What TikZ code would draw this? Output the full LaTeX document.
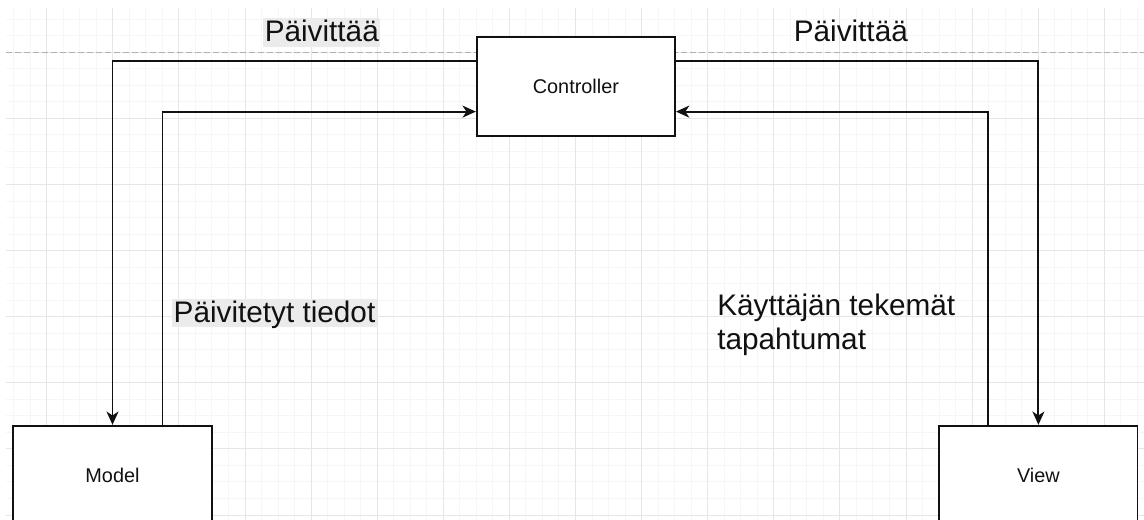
\documentclass[tikz,border=0pt]{standalone}
\usepackage{fontspec}
\setmainfont{Liberation Sans}
\usetikzlibrary{arrows.meta,calc}
\definecolor{gridminor}{HTML}{F6F6F6}
\definecolor{gridmajor}{HTML}{E6E6E6}
\definecolor{labelbg}{HTML}{EBEBEB}
\definecolor{pagebreak}{HTML}{B0B0B0}
\definecolor{ink}{HTML}{111111}
\tikzset{
  box/.style={draw=ink, line width=1.3pt, fill=white, minimum width=148.8pt,
    minimum height=74.5pt, inner sep=0pt, font=\fontsize{14.9}{18}\selectfont, text=ink},
  conn/.style={draw=ink, line width=1.4pt,
    -{Stealth[length=10pt,width=9pt,inset=3pt]}},
  biglbl/.style={font=\fontsize{22.3}{25.5}\selectfont, text=ink, inner sep=0pt},
  hilite/.style={fill=labelbg, inner xsep=1pt, text height=18pt, text depth=3.6pt},
  minorline/.style={draw=gridminor, line width=0.75pt},
  majorline/.style={draw=gridmajor, line width=0.75pt},
}
\begin{document}
\begin{tikzpicture}[x=0.75pt,y=-0.75pt]
\useasboundingbox (0,0) rectangle (1144,520);
\fill[white] (0,0) rectangle (1144,520);
% grid
\begin{scope}
\clip (6,8) rectangle (1144,520);
\foreach \gx in {13.65,30.175,...,1144} \draw[minorline] (\gx,8) -- (\gx,520);
\foreach \gy in {19.25,35.775,...,520} \draw[minorline] (6,\gy) -- (1144,\gy);
\foreach \gx in {46.7,112.8,...,1144} \draw[majorline] (\gx,8) -- (\gx,520);
\foreach \gy in {52.3,118.4,...,520} \draw[majorline] (6,\gy) -- (1144,\gy);
\end{scope}
% page break line
\draw[pagebreak, line width=0.9pt, dash pattern=on 4.5pt off 2.25pt] (6,52.3) -- (1144,52.3);

% boxes
\node[box] (ctrl) at (575.9,86.35) {Controller};
\node[box] (model) at (112.5,475.35) {Model};
\node[box] (view) at (1038.4,475.35) {View};

% connectors
\coordinate (cLup) at ($(ctrl.north west)!0.25!(ctrl.south west)$);
\coordinate (cLdn) at ($(ctrl.north west)!0.75!(ctrl.south west)$);
\coordinate (cRup) at ($(ctrl.north east)!0.25!(ctrl.south east)$);
\coordinate (cRdn) at ($(ctrl.north east)!0.75!(ctrl.south east)$);
\coordinate (mOut) at ($(model.north west)!0.75!(model.north east)$);
\coordinate (vOut) at ($(view.north west)!0.25!(view.north east)$);

\draw[conn] (cLup) -| (model.north);
\draw[conn] (mOut) |- (cLdn);
\draw[conn] (cRup) -| (view.north);
\draw[conn] (vOut) |- (cRdn);

% labels
\node[biglbl, hilite, anchor=base] (lblL) at (321.8,42) {Päivittää};
\node[biglbl, anchor=base] (lblR) at (850.8,42) {Päivittää};
\node[biglbl, hilite, anchor=base] (lblM) at (274.5,322.5) {Päivitetyt tiedot};
\node[biglbl, anchor=base west, align=left] (lblV) at (717,349.5) {Käyttäjän tekemät\\tapahtumat};
\end{tikzpicture}
\end{document}
